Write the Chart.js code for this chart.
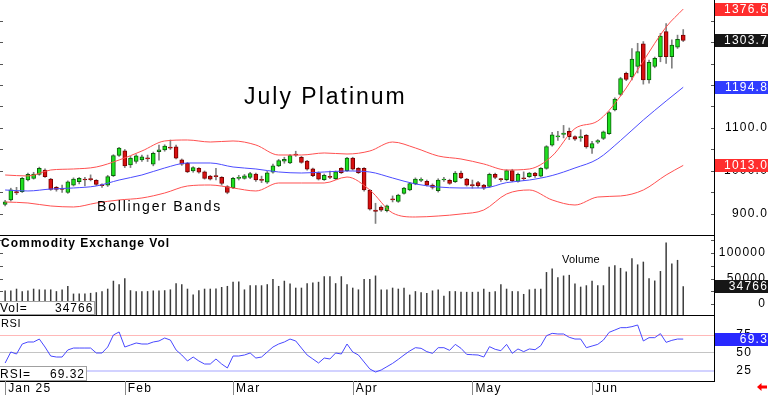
<!DOCTYPE html>
<html>
<head>
<meta charset="utf-8">
<title>July Platinum</title>
<script src="https://cdn.jsdelivr.net/npm/chart.js@4.4.1/dist/chart.umd.min.js"></script>
<style>
  html, body { margin: 0; padding: 0; background: #fff; }
  #wrap { position: relative; width: 768px; height: 395px; overflow: hidden; font-family: 'Liberation Sans', Arial, sans-serif; }
  #wrap canvas { position: absolute; left: 0; }
  .lbl { position: absolute; white-space: pre; color: #000; line-height: 1; }
  .box { position: absolute; left: 0; background: #fff; border: 1px solid #a0a0a0; border-left: none; box-sizing: border-box; }
</style>
</head>
<body>
<div id="wrap">
  <canvas id="priceChart" width="768" height="236" style="top:0px"></canvas>
  <canvas id="volChart" width="768" height="80" style="top:236px"></canvas>
  <canvas id="rsiChart" width="768" height="79" style="top:316px"></canvas>

  <div class="lbl" style="left:244px; top:85px; font-size:23px; letter-spacing:2px">July Platinum</div>
  <div class="lbl" style="left:97px; top:199px; font-size:14px; letter-spacing:1.8px">Bollinger Bands</div>
  <div class="lbl" style="left:1px; top:237px; font-size:12px; font-weight:bold; letter-spacing:1px">Commodity Exchange Vol</div>
  <div class="lbl" style="left:562px; top:254px; font-size:11px; letter-spacing:0.2px">Volume</div>
  <div class="lbl" style="left:1px; top:318px; font-size:11px; letter-spacing:0.6px">RSI</div>

  <div class="box" style="top:301px; width:95px; height:14px"></div>
  <div class="lbl" style="left:0px; top:302px; font-size:12px; letter-spacing:1px">Vol=</div>
  <div class="lbl" id="volNow" style="left:55px; top:302px; font-size:12px; letter-spacing:1px"></div>

  <div class="box" style="top:366px; width:87px; height:15px"></div>
  <div class="lbl" style="left:0px; top:368px; font-size:12px; letter-spacing:1px">RSI=</div>
  <div class="lbl" id="rsiNow" style="left:50px; top:368px; font-size:12px; letter-spacing:1px"></div>
</div>

<script>
// month ticks (bar index of first session of each month)
const monthIdx = [0, 21, 40, 61, 82, 103];
const monthLabels = ['Jan 25', 'Feb', 'Mar', 'Apr', 'May', 'Jun'];

// daily OHLC
const open = [922, 933, 952, 952, 979, 983, 992, 1002, 981, 962,
  959, 950, 967, 975, 981, 982, 978, 968, 967, 989,
  1036, 1047, 1014, 1022, 1026, 1030, 1016, 1045, 1049, 1055,
  1056, 1026, 1018, 1000, 1006, 998, 988, 989, 985, 964,
  961, 983, 983, 985, 993, 980, 974, 997, 1012, 1023,
  1019, 1039, 1032, 1023, 1005, 996, 980, 987, 982, 1006,
  1001, 1030, 1006, 1006, 955, 909, 916, 908, 935, 929,
  948, 956, 970, 978, 976, 967, 954, 979, 978, 975,
  995, 981, 968, 973, 967, 964, 992, 981, 980, 1001,
  976, 984, 987, 995, 988, 1006, 1060, 1079, 1085, 1092,
  1080, 1077, 1083, 1053, 1067, 1076, 1087, 1142, 1178, 1227,
  1219, 1243, 1296, 1212, 1243, 1266, 1324, 1266, 1288, 1316];
const high = [932, 960, 962, 985, 995, 997, 1009, 1005, 983, 964,
  967, 977, 984, 985, 985, 991, 980, 970, 990, 1038,
  1055, 1050, 1034, 1038, 1037, 1037, 1044, 1060, 1061, 1072,
  1060, 1028, 1020, 1010, 1008, 1000, 990, 1006, 987, 966,
  985, 990, 992, 997, 995, 988, 999, 1016, 1027, 1032,
  1038, 1046, 1034, 1025, 1007, 998, 993, 1000, 1000, 1008,
  1032, 1032, 1008, 1008, 957, 925, 919, 921, 942, 946,
  962, 973, 984, 984, 979, 970, 982, 985, 981, 999,
  1000, 983, 979, 976, 969, 995, 995, 983, 1003, 1004,
  995, 998, 997, 997, 1008, 1059, 1090, 1092, 1106, 1100,
  1082, 1096, 1085, 1069, 1073, 1093, 1138, 1170, 1218, 1230,
  1285, 1297, 1301, 1258, 1265, 1320, 1343, 1305, 1316, 1329];
const low = [919, 930, 945, 950, 977, 981, 990, 985, 955, 953,
  950, 948, 965, 970, 965, 977, 966, 962, 964, 987,
  1034, 1008, 1008, 1018, 1022, 1022, 1012, 1025, 1046, 1050,
  1028, 1013, 996, 997, 995, 981, 979, 979, 967, 947,
  959, 979, 981, 982, 976, 973, 971, 995, 1010, 1018,
  1017, 1034, 1018, 1002, 987, 979, 978, 982, 980, 994,
  999, 1002, 994, 953, 909, 878, 906, 905, 928, 927,
  946, 954, 968, 975, 965, 958, 951, 976, 969, 973,
  982, 965, 960, 962, 957, 962, 982, 976, 977, 975,
  974, 978, 985, 985, 986, 1004, 1058, 1071, 1077, 1073,
  1071, 1069, 1053, 1041, 1064, 1073, 1085, 1140, 1175, 1210,
  1212, 1228, 1202, 1204, 1240, 1254, 1250, 1239, 1285, 1301];
const close = [928, 956, 949, 983, 992, 993, 1006, 987, 957, 957,
  957, 975, 981, 983, 979, 980, 969, 966, 987, 1036,
  1053, 1012, 1030, 1035, 1033, 1028, 1041, 1049, 1058, 1053,
  1030, 1016, 998, 1008, 997, 983, 981, 987, 971, 950,
  983, 985, 989, 994, 979, 978, 996, 1012, 1024, 1027,
  1036, 1037, 1020, 1004, 989, 981, 990, 985, 998, 996,
  1030, 1004, 996, 956, 911, 906, 909, 919, 933, 944,
  960, 971, 981, 980, 967, 962, 979, 981, 971, 995,
  984, 967, 966, 966, 960, 992, 985, 980, 1001, 977,
  992, 982, 995, 989, 1006, 1057, 1084, 1082, 1088, 1080,
  1074, 1080, 1056, 1064, 1071, 1091, 1136, 1167, 1215, 1213,
  1260, 1278, 1212, 1253, 1262, 1314, 1266, 1293, 1306, 1303.7];

const volume = [26500, 26500, 30000, 25200, 26500, 30000, 28600, 28600, 28600, 25200,
  28600, 35400, 20400, 20400, 20400, 21800, 23100, 25200, 30000, 45600,
  38800, 50300, 27000, 25200, 25200, 25200, 26500, 26500, 27000, 28600,
  40800, 38800, 30000, 18400, 27000, 30000, 30000, 30600, 33300, 35400,
  43500, 44200, 28600, 36700, 36700, 36700, 38800, 49000, 35400, 45600,
  40100, 32000, 32000, 40800, 42200, 43500, 54400, 54400, 40800, 54400,
  38800, 32000, 28600, 49000, 49000, 55800, 28600, 28600, 32000, 30000,
  32000, 18400, 25200, 23100, 21800, 26500, 28600, 16300, 25200, 25200,
  23800, 23800, 23800, 23800, 30000, 23800, 25200, 38800, 30000, 25200,
  25200, 19700, 28600, 30000, 30000, 62600, 69400, 52400, 55800, 57100,
  40100, 34000, 36700, 45600, 36700, 36700, 72800, 76200, 70700, 63900,
  89800, 77600, 83000, 50300, 46000, 64600, 120400, 79600, 86400, 34766];

const rsi = [36.1, 51.4, 48.6, 62.5, 65.3, 65.3, 69.4, 58.3, 45.8, 44.4,
  44.4, 54.2, 56.9, 56.9, 56.9, 56.9, 50, 50, 58.3, 75,
  79.2, 58.3, 61.1, 63.9, 62.5, 62.5, 65.3, 66.7, 70.8, 68,
  54.2, 47.2, 38.9, 44.4, 38.9, 34.7, 34.7, 41.7, 34.7, 29.2,
  45.8, 45.8, 47.2, 50, 43, 44.4, 51.4, 58.3, 62.5, 65.3,
  69.4, 66.7, 56.9, 47.2, 41.7, 36.1, 43, 41.7, 50, 48.6,
  62.5, 51.4, 47.2, 37.5, 27.8, 23.6, 26.4, 31, 35.6, 41.2,
  47.2, 52.8, 57.4, 56.5, 51.9, 49.5, 57.4, 57.4, 53.7, 62,
  56.5, 48.1, 47.6, 47.2, 44.4, 58.8, 55.1, 53.2, 62, 49.5,
  55.6, 51.9, 55.6, 54.6, 60.2, 74, 77.3, 76.4, 76.4, 71.8,
  69.4, 69.4, 57.4, 59.7, 62, 68, 78.7, 81.9, 85.2, 85.2,
  86.6, 88.9, 66.7, 71.3, 71.3, 76.9, 64.8, 67.6, 69.4, 69.32];

// Bollinger bands, read every 4th session
const bandIdx = [0, 4, 8, 12, 16, 20, 24, 28, 32, 36, 40, 44, 48, 52, 56, 60,
  64, 68, 72, 76, 80, 84, 88, 92, 96, 100, 104, 108, 112, 116, 119];
const bandUpper = [990.7, 988.4, 1002.3, 1004.7, 1009.3, 1025.6, 1046.5, 1069.8, 1072.1, 1067.4,
  1069.8, 1060.5, 1037.2, 1037.2, 1041.9, 1039.5, 1046.5, 1067.4, 1053.5, 1034.9,
  1027.9, 1016.3, 1002.3, 1004.7, 1034.9, 1098.8, 1116.3, 1174.4, 1255.8, 1334.9, 1376.6];
const bandMid = [955.8, 953.5, 958.1, 960.5, 965.1, 979, 990.7, 1007, 1018.6, 1018.6,
  1009.3, 1004.7, 997.7, 995.3, 997.7, 1000, 997.7, 983.7, 969.8, 962.8,
  960.5, 960.5, 973, 979, 989.5, 1007, 1027.9, 1071, 1118.6, 1162.8, 1194.8];
const bandLow = [927.9, 925.6, 918.6, 916.3, 925.6, 932.6, 937.2, 948.8, 965.1, 967.4,
  960.5, 953.5, 972.1, 972.1, 972.1, 986, 955.8, 902.3, 893, 895.3,
  900, 909.3, 946.5, 955.8, 932.6, 920.9, 939.5, 941.9, 955.8, 990.7, 1013];

const priceTicks = [900, 1000, 1100];
const volTicks = [0, 50000, 100000];
const rsiTicks = [25, 50, 75];

// ---------------------------------------------------------------
Chart.defaults.font.family = "'Liberation Sans', Arial, sans-serif";
Chart.defaults.font.size = 12;
Chart.defaults.color = '#000';
Chart.defaults.animation = false;
Chart.defaults.events = [];
Chart.defaults.plugins.legend.display = false;
Chart.defaults.plugins.tooltip.enabled = false;

const X_MIN = -0.9, X_MAX = 124.4;
const AXIS_W = 54;
const FONT = "12px 'Liberation Sans', Arial, sans-serif";
const days = close.map((_, i) => i);
const last = days.length - 1;

document.getElementById('volNow').textContent = String(volume[last]);
document.getElementById('rsiNow').textContent = rsi[last].toFixed(2);

const spacing = { id: 'spacing', beforeDraw(chart) { chart.ctx.letterSpacing = '1.2px'; } };

function fitRight(s) { s.width = AXIS_W; s.paddingTop = 0; s.paddingBottom = 0; }

// labels are mirrored and pushed right so they end at labelRight
function rightAxis(min, max, ticks, fmt, labelRight, extra) {
  return Object.assign({
    position: 'right', min, max,
    afterFit: fitRight,
    afterBuildTicks: s => { s.ticks = ticks.map(v => ({ value: v })); },
    ticks: { callback: fmt, mirror: true, padding: labelRight - 714, font: { size: 12 } },
    grid: { display: false, drawTicks: false },
    border: { display: true, color: '#000', width: 1 }
  }, extra || {});
}

function hiddenX() {
  return { type: 'linear', min: X_MIN, max: X_MAX, offset: false, display: false };
}

function tag(chart, value, text, bg) {
  const ctx = chart.ctx;
  const y = Math.round(chart.scales.y.getPixelForValue(value));
  ctx.save();
  ctx.fillStyle = bg;
  ctx.fillRect(chart.chartArea.right + 1, y - 6, 53, 13);
  ctx.fillStyle = '#fff';
  ctx.font = FONT;
  ctx.letterSpacing = '1.2px';
  ctx.textAlign = 'right';
  ctx.textBaseline = 'middle';
  ctx.fillText(text, 768, y + 0.5);
  ctx.restore();
}

function edgeTicks(chart, from, to, step) {
  const ctx = chart.ctx, sc = chart.scales.y, r = chart.chartArea.right;
  ctx.save();
  ctx.strokeStyle = '#555';
  ctx.lineWidth = 1;
  ctx.beginPath();
  for (let v = from; v <= to; v += step) {
    const y = Math.round(sc.getPixelForValue(v)) + 0.5;
    ctx.moveTo(0, y); ctx.lineTo(3, y);
    ctx.moveTo(r - 3, y); ctx.lineTo(r, y);
  }
  ctx.stroke();
  ctx.restore();
}

function bottomLine(chart) {
  const ctx = chart.ctx, a = chart.chartArea;
  ctx.save();
  ctx.strokeStyle = '#000';
  ctx.lineWidth = 1;
  ctx.beginPath();
  ctx.moveTo(0, a.bottom - 0.5);
  ctx.lineTo(a.right, a.bottom - 0.5);
  ctx.stroke();
  ctx.restore();
}

function band(values, color) {
  return {
    type: 'line',
    data: bandIdx.map((d, k) => ({ x: d, y: values[k] })),
    borderColor: color, borderWidth: 1, pointRadius: 0,
    cubicInterpolationMode: 'monotone', order: 0
  };
}

const isUp = i => close[i] >= open[i];

// ---- price panel ----
new Chart(document.getElementById('priceChart'), {
  type: 'bar',
  data: {
    datasets: [
      band(bandUpper, '#ff5050'),
      band(bandMid, '#4c4cff'),
      band(bandLow, '#ff5050'),
      {
        type: 'bar',
        data: days.map(i => ({ x: i, y: [open[i], close[i]] })),
        backgroundColor: c => isUp(c.dataIndex) ? '#1ee01e' : '#d81010',
        borderColor: c => isUp(c.dataIndex) ? '#0b600b' : '#7a0000',
        borderWidth: 1, borderSkipped: false, grouped: false,
        barThickness: 4, maxBarThickness: 4, minBarLength: 1, order: 1
      },
      {
        type: 'bar',
        data: days.map(i => ({ x: i, y: [low[i], high[i]] })),
        backgroundColor: '#808080', grouped: false,
        barThickness: 1, maxBarThickness: 1, order: 2
      }
    ]
  },
  options: {
    responsive: false,
    layout: { padding: 0 },
    scales: {
      x: hiddenX(),
      y: rightAxis(848.8, 1397.7, priceTicks, v => v.toFixed(1), 768)
    }
  },
  plugins: [spacing, {
    id: 'priceDecor',
    afterDraw(chart) {
      edgeTicks(chart, 850, 1400, 50);
      bottomLine(chart);
      tag(chart, bandUpper[bandUpper.length - 1], bandUpper[bandUpper.length - 1].toFixed(1), '#ff2d2d');
      tag(chart, close[last], close[last].toFixed(1), '#161616');
      tag(chart, bandMid[bandMid.length - 1], bandMid[bandMid.length - 1].toFixed(1), '#2f3cff');
      tag(chart, bandLow[bandLow.length - 1], bandLow[bandLow.length - 1].toFixed(1), '#ff2d2d');
    }
  }]
});

// ---- volume panel ----
const VOL_MIN = -23500, VOL_MAX = 133300;
new Chart(document.getElementById('volChart'), {
  type: 'bar',
  data: {
    datasets: [{
      data: days.map(i => ({ x: i, y: volume[i] })),
      backgroundColor: '#3c3c3c',
      barThickness: 1.5, inflateAmount: 0, base: VOL_MIN
    }]
  },
  options: {
    responsive: false,
    layout: { padding: 0 },
    scales: {
      x: hiddenX(),
      y: rightAxis(VOL_MIN, VOL_MAX, volTicks, v => String(v), 766)
    }
  },
  plugins: [spacing, {
    id: 'volDecor',
    afterDraw(chart) {
      edgeTicks(chart, 0, 125000, 25000);
      bottomLine(chart);
      tag(chart, volume[last], String(volume[last]), '#161616');
    }
  }]
});

// ---- RSI panel + date axis ----
const rsiGrid = { 75: '#ffb8b8', 50: '#c4c4c4', 25: '#d2d2ff' };
new Chart(document.getElementById('rsiChart'), {
  type: 'line',
  data: {
    datasets: [{
      data: days.map(i => ({ x: i, y: rsi[i] })),
      borderColor: '#4848ff', borderWidth: 1, pointRadius: 0, tension: 0
    }]
  },
  options: {
    responsive: false,
    layout: { padding: 0 },
    scales: {
      x: {
        type: 'linear', min: X_MIN, max: X_MAX, offset: false, position: 'bottom',
        afterBuildTicks: s => { s.ticks = monthIdx.map(v => ({ value: v })); },
        afterFit: s => { s.height = 14; s.paddingLeft = 0; s.paddingRight = 0; },
        ticks: {
          callback: v => monthLabels[monthIdx.indexOf(v)],
          align: 'start', labelOffset: 3, padding: 0,
          maxRotation: 0, autoSkip: false, font: { size: 12 }
        },
        grid: { display: false, drawTicks: false },
        border: { display: true, color: '#000', width: 1 }
      },
      y: rightAxis(11.1, 101.4, rsiTicks, v => String(v), 752, {
        grid: {
          display: true, drawTicks: false,
          color: c => rsiGrid[c.tick.value] || '#ccc',
          lineWidth: c => c.tick.value === 25 ? 2 : 1
        }
      })
    }
  },
  plugins: [spacing, {
    id: 'rsiDecor',
    afterDraw(chart) {
      const ctx = chart.ctx, a = chart.chartArea, xs = chart.scales.x;
      // month separators below the panel
      ctx.save();
      ctx.strokeStyle = '#888';
      ctx.lineWidth = 1;
      ctx.beginPath();
      monthIdx.forEach(m => {
        const px = Math.round(xs.getPixelForValue(m)) + 0.5;
        ctx.moveTo(px, a.bottom);
        ctx.lineTo(px, 79);
      });
      ctx.stroke();
      // little red arrow, bottom right
      ctx.fillStyle = '#ff0000';
      ctx.beginPath();
      ctx.moveTo(757, 71);
      ctx.lineTo(761.5, 67);
      ctx.lineTo(761.5, 69.5);
      ctx.lineTo(767, 69.5);
      ctx.lineTo(767, 72.5);
      ctx.lineTo(761.5, 72.5);
      ctx.lineTo(761.5, 75);
      ctx.closePath();
      ctx.fill();
      ctx.restore();
      tag(chart, rsi[last], rsi[last].toFixed(1), '#2828ff');
    }
  }]
});
</script>
</body>
</html>
